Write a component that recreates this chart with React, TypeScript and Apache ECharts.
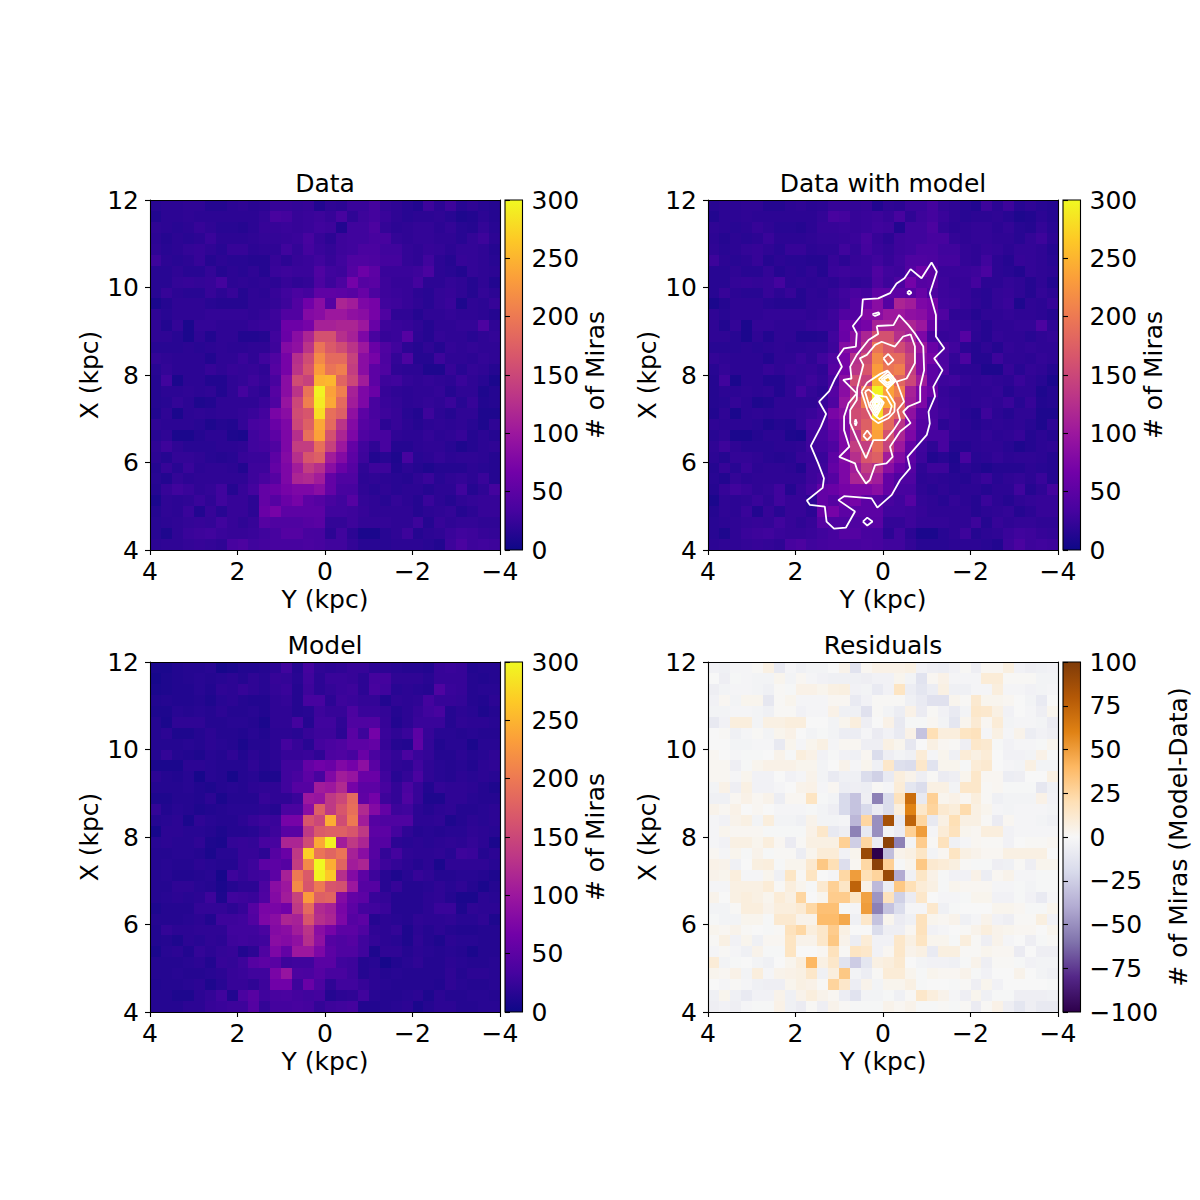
import React, { useEffect, useRef } from "react";
import * as echarts from "echarts";

// counts per bin, rows run from X=12 down to X=4, columns from Y=4 to Y=-4
const dataRows: number[][] = [
  [16,18,18,20,20,14,14,18, 20,17,18,24,24,22,24,12, 20,18,26,26,32,22,20,16, 12,28,18,28,16,20,16,14],
  [12,18,18,20,18,18,18,18, 18,18,22,35,32,24,26,28, 24,34,20,28,32,26,20,16, 18,18,20,16,10,12,18,14],
  [20,18,16,18,24,20,16,16, 14,18,24,24,26,24,26,30, 28,12,30,30,38,22,18,20, 22,22,18,22,16,14,22,16],
  [18,14,18,16,18,26,18,18, 18,20,22,22,24,26,34,24, 18,28,30,30,34,34,22,20, 22,22,20,20,16,22,28,18],
  [20,16,18,22,24,20,16,24, 24,18,20,20,30,22,32,26, 22,28,30,36,36,30,30,22, 20,24,22,18,22,22,20,14],
  [28,18,16,18,24,14,18,16, 16,14,14,24,18,24,26,30, 24,30,40,40,38,32,32,22, 20,30,18,14,24,22,20,16],
  [16,16,20,16,16,22,14,18, 16,20,14,26,28,26,26,40, 30,28,44,62,50,26,26,26, 28,36,18,16,12,22,20,18],
  [16,16,22,24,22,24,32,18, 20,18,20,18,24,20,22,38, 28,38,68,45,48,28,24,24, 32,18,18,22,20,14,20,12],
  [16,24,18,16,16,24,18,24, 14,20,18,24,30,36,32,52, 52,50,46,58,38,28,26,24, 18,16,22,24,20,14,22,18],
  [8,14,20,20,20,16,14,14, 14,20,20,22,28,42,65,85, 45,115,105,75,70,30,28,24, 20,16,22,26,10,20,18,24],
  [20,16,20,20,20,22,22,22, 22,20,22,28,42,42,80,85, 100,100,90,85,70,40,20,20, 14,20,20,22,20,20,18,14],
  [20,12,22,8,22,22,20,20, 20,24,26,26,62,62,70,110, 110,115,115,100,58,28,26,24, 20,14,20,20,22,22,38,20],
  [20,20,16,8,20,12,20,20, 12,12,14,30,60,85,115,160, 160,125,110,75,35,24,26,45, 18,14,22,20,20,16,20,22],
  [16,16,16,18,16,18,20,18, 18,20,20,28,80,90,130,195, 170,155,130,100,60,40,30,18, 14,20,14,22,20,22,20,20],
  [22,20,18,18,18,12,20,20, 26,20,30,40,70,125,155,215, 185,185,145,85,70,38,22,38, 14,14,28,20,20,18,22,20],
  [16,22,18,18,18,24,20,24, 22,24,20,45,70,130,165,230, 195,205,140,85,50,40,20,18, 18,10,10,24,16,22,20,14],
  [14,30,8,18,18,12,12,20, 22,28,22,35,85,155,145,248, 252,180,150,105,50,28,30,22, 20,22,20,18,26,20,16,8],
  [14,18,18,20,18,20,12,20, 32,22,18,45,85,130,195,295, 235,205,110,75,60,24,20,18, 20,20,22,14,20,20,10,14],
  [14,16,22,18,10,12,20,20, 20,20,26,40,95,150,205,290, 240,185,105,75,35,26,22,18, 20,22,20,26,16,24,12,14],
  [12,20,8,18,20,18,20,20, 22,26,32,72,85,155,165,280, 190,175,90,50,35,28,24,16, 12,28,18,14,20,20,10,10],
  [20,18,18,18,16,10,14,12, 22,34,36,60,75,150,175,240, 185,130,80,45,38,18,24,18, 14,18,20,18,20,16,10,20],
  [16,20,8,8,14,18,18,10, 8,30,35,50,75,125,190,235, 160,115,75,40,34,34,20,18, 18,22,18,20,24,14,18,14],
  [20,28,20,16,16,16,18,18, 20,30,32,40,75,140,140,190, 145,100,55,30,20,34,14,14, 18,20,20,16,10,14,18,20],
  [18,14,22,22,20,16,14,16, 24,26,26,50,80,125,165,175, 105,80,50,28,12,16,10,34, 16,18,22,18,20,20,18,14],
  [14,24,16,26,18,20,20,18, 12,28,28,55,75,105,140,125, 85,60,45,20,28,28,12,18, 14,10,14,14,14,18,16,14],
  [16,12,22,18,20,20,20,20, 20,28,35,45,75,115,120,105, 55,40,40,18,20,18,16,14, 20,26,16,20,22,18,26,14],
  [14,24,30,26,20,22,30,14, 24,32,55,60,70,75,75,85, 55,35,34,20,16,20,16,18, 18,14,18,18,30,14,20,32],
  [8,20,18,20,26,20,30,24, 24,18,55,45,60,70,50,45, 35,30,45,22,20,16,22,18, 14,26,18,14,20,22,24,24],
  [14,20,18,26,12,24,16,24, 24,18,60,70,50,50,50,50, 30,30,28,24,20,20,20,20, 14,18,20,22,14,18,24,24],
  [16,18,20,22,24,22,30,24, 20,24,45,40,40,40,45,48, 22,22,28,22,22,22,20,20, 28,14,24,20,22,22,20,20],
  [16,10,20,26,28,30,26,24, 24,26,30,34,44,44,35,34, 18,30,18,8,8,16,20,28, 14,18,20,26,30,28,24,22],
  [18,20,20,22,24,22,20,34, 38,30,32,34,34,34,36,34, 30,30,22,16,16,16,18,18, 18,16,12,28,36,28,30,28],
];

const modelRows: number[][] = [
  [8,8,12,14,14,16,6,8, 12,12,14,18,30,14,32,20, 18,20,24,24,18,18,16,14, 14,12,24,26,24,12,14,14],
  [6,10,12,14,16,14,16,18, 14,20,16,24,22,16,30,18, 26,26,24,18,32,32,20,20, 20,16,24,24,24,14,12,14],
  [8,10,12,12,16,12,20,18, 24,20,16,22,26,14,28,18, 22,26,28,18,34,30,16,18, 16,14,40,26,24,14,16,16],
  [12,14,12,12,14,10,16,18, 14,12,12,20,22,14,34,34, 18,28,26,22,22,12,20,18, 20,32,24,24,22,14,12,18],
  [10,10,16,14,16,14,18,14, 14,16,12,20,20,14,16,28, 24,24,38,26,26,22,14,18, 24,30,34,14,18,16,10,14],
  [14,8,20,20,20,14,14,16, 16,14,8,20,20,32,14,30, 30,20,40,40,42,24,12,18, 26,26,26,14,20,18,18,16],
  [14,18,10,10,14,18,14,14, 12,16,12,18,18,16,24,28, 28,18,48,28,68,26,20,26, 50,24,16,16,14,16,14,14],
  [14,14,14,16,14,18,16,14, 8,14,14,18,32,24,16,32, 36,40,50,50,55,24,14,12, 52,22,12,16,16,8,16,16],
  [14,22,14,12,10,16,14,20, 12,18,14,18,24,24,26,20, 38,40,34,60,36,28,22,36, 26,22,14,14,18,14,16,20],
  [8,8,8,18,18,16,14,14, 14,20,14,16,30,30,55,65, 60,78,68,88,48,26,20,18, 30,20,16,14,16,12,18,20],
  [18,14,12,16,6,16,14,6, 14,16,10,10,30,35,50,35, 78,105,95,60,60,30,16,22, 36,20,16,14,18,16,18,16],
  [14,14,14,16,12,10,14,16, 14,18,20,20,30,45,45,105, 100,120,70,50,50,34,22,36, 24,12,22,20,20,18,14,10],
  [10,10,14,14,12,18,8,14, 14,14,24,20,20,26,100,95, 135,150,185,52,68,28,22,40, 24,10,10,20,20,16,14,14],
  [22,12,16,14,10,12,14,16, 16,16,18,14,36,36,85,175, 135,165,190,120,80,55,28,30, 18,14,18,20,14,14,16,18],
  [14,16,18,8,20,16,14,14, 18,24,28,26,70,70,165,150, 245,155,200,105,45,40,40,40, 18,18,20,10,14,18,16,18],
  [6,18,18,16,16,14,10,14, 14,16,22,28,48,48,135,170, 175,175,165,135,50,50,32,20, 14,16,14,16,16,20,18,16],
  [16,18,16,16,20,10,8,22, 24,22,34,34,115,115,155,240, 295,105,135,115,45,45,18,16, 18,16,18,20,18,22,18,8],
  [14,14,16,16,14,8,16,16, 24,24,18,45,60,135,270,195, 180,195,110,85,45,22,32,20, 18,18,20,16,28,26,14,18],
  [14,16,14,14,18,16,14,14, 24,28,50,50,45,140,215,300, 245,180,105,115,40,28,22,18, 14,18,8,20,20,20,20,16],
  [14,16,12,12,14,16,6,28, 22,28,30,50,110,200,170,295, 265,125,80,50,28,16,10,16, 24,20,14,14,16,16,14,10],
  [14,14,20,20,16,14,8,14, 18,18,38,85,100,215,165,200, 165,160,100,45,45,16,24,14, 14,16,20,16,20,14,8,14],
  [14,16,18,16,18,28,10,30, 28,26,40,80,105,145,230,175, 180,80,55,50,25,22,14,14, 14,18,20,14,8,8,18,16],
  [10,14,14,14,22,22,22,18, 24,45,72,72,65,135,185,120, 110,72,50,32,30,26,14,14, 14,18,26,26,10,20,18,18],
  [14,14,14,16,18,12,28,28, 30,42,75,85,115,110,165,125, 115,75,45,50,14,18,16,14, 20,18,18,20,16,16,20,10],
  [12,22,18,18,20,20,20,30, 30,30,36,80,85,105,130,85, 70,50,50,40,20,18,22,10, 18,14,18,14,12,12,14,14],
  [12,14,10,18,16,20,18,28, 30,28,30,85,80,90,125,90, 45,40,45,30,22,18,16,10, 20,14,10,18,16,16,14,14],
  [8,16,18,12,22,18,22,24, 12,18,40,75,55,100,100,75, 50,40,40,30,10,20,20,14, 18,16,14,16,14,8,14,14],
  [14,14,14,16,18,12,24,22, 28,45,50,48,28,30,30,48, 48,30,28,14,16,6,12,16, 20,14,14,18,16,14,14,16],
  [14,14,16,14,14,16,18,24, 26,30,30,72,95,38,36,45, 35,35,28,14,18,14,16,14, 14,14,14,20,14,18,18,16],
  [12,14,14,16,18,10,16,24, 24,20,28,65,65,28,60,38, 20,30,30,24,18,16,14,14, 14,14,12,20,16,14,14,16],
  [14,14,10,10,18,22,30,12, 36,46,30,35,36,32,30,32, 14,18,20,30,16,14,14,16, 18,10,18,14,14,16,16,14],
  [14,14,14,18,18,24,26,28, 28,44,22,32,32,34,32,22, 28,30,32,12,12,14,16,18, 8,14,18,18,14,14,16,16],
];

const residualRows: number[][] = [
  [-4,-5,-2,-2,1,6,-10,-2, -5,-3,-3,0,4,-14,2,5, 5,5,6,-4,-6,-7,-4,1, -6,2,2,7,-4,-6,-5,-4],
  [0,-6,-1,-2,-3,-3,3,-3, 2,-2,-4,-5,-5,-5,-6,-4, -4,3,-3,-14,2,5,-2,-2, -2,10,10,1,1,1,-3,-3],
  [-6,-3,-2,-2,-3,-5,1,-1, 5,5,3,6,7,-4,-3,-9, -4,16,-7,-12,-7,6,-5,-5, -2,-2,8,-2,-2,-4,-3,-2],
  [-4,2,-3,3,3,-11,1,3, -2,-2,-2,2,2,-9,-4,1, 1,1,-5,-9,-15,-15,3,1, 12,3,3,2,0,-3,-9,0],
  [-3,-3,-2,-2,-3,-5,1,1, -4,-2,-2,5,-5,-5,-15,1, -3,-7,5,-8,1,-4,-9,-3, 14,13,6,-4,0,-2,-6,3],
  [-10,-4,8,8,-3,6,6,8, 8,0,0,-3,3,8,-6,0, 5,-10,-1,-1,2,-3,-12,3, 11,2,10,-3,-2,-2,-3,-8],
  [0,1,-5,-2,1,-3,3,5, 0,-3,-1,-3,-7,-7,-2,-8, -4,-9,5,-30,20,8,8,16, 18,-2,6,-2,4,-7,-4,-6],
  [0,0,-3,-3,-2,-2,-10,3, -2,3,6,-2,2,2,-6,-6, 6,3,-11,0,6,2,1,-6, 14,12,-1,-4,-2,-2,-1,3],
  [2,0,-2,-1,-1,0,4,-1, 8,5,-4,-1,-4,-5,2,-18, -6,-3,-5,10,-2,3,-5,10, 6,10,0,-4,-4,-3,5,-1],
  [2,2,-6,-1,3,5,5,5, 3,3,-3,0,4,-2,3,-5, 14,-16,-18,14,-14,3,3,-1, 10,12,0,-2,-3,6,-3,-3],
  [2,2,-2,3,-4,-4,0,-4, -2,4,-3,-9,-5,-5,-18,-24, -9,8,4,-6,1,-8,-6,3, 14,2,2,-7,-6,0,0,6],
  [-3,5,-6,6,-4,-4,-2,0, 4,5,-2,2,-7,-6,-7,1, -2,10,-12,-18,6,6,-3,14, 14,1,2,-1,-1,-1,-11,-5],
  [-5,-5,2,5,2,4,-7,2, 2,16,-1,-3,-20,-30,-6,-55, -18,18,70,-10,28,3,5,2, 8,1,-5,-3,-3,-3,5,-4],
  [4,2,5,0,2,0,-2,-2, -2,-1,-3,-6,-20,-30,-20,-8, -18,8,60,14,26,12,9,22, 6,3,-2,-3,-2,-2,-2,-3],
  [-2,-4,4,6,-3,8,-3,-3, -5,4,-3,-3,-2,-35,25,-50, 85,-10,75,25,-10,6,20,6, 6,1,-8,2,-2,-2,-3,-5],
  [-2,3,2,2,2,-1,-1,-1, -1,5,14,-10,-6,-55,-10,-50, -3,-8,28,50,-2,10,18,3, 2,8,8,-4,-2,-2,-2,-2],
  [-2,-4,6,6,3,8,2,-8, 1,6,6,6,28,-25,25,-8, 95,-55,-3,30,1,18,-5,-2, 2,1,1,-4,0,1,1,2],
  [2,-2,3,-1,4,-1,1,1, -7,3,10,10,-4,3,90,-100, -32,4,6,15,-3,2,16,6, 4,2,2,6,6,6,6,0],
  [5,4,-5,0,7,8,-1,3, 3,12,32,20,-17,2,24,95, 28,-1,3,32,12,10,7,1, -1,-1,-6,-5,1,-6,3,3],
  [4,3,8,-2,-2,3,-5,15, 1,16,0,-2,24,50,20,26, 90,-40,-5,15,5,-1,-4,-4, 5,-7,2,4,-2,-2,-1,-1],
  [-2,-2,6,6,6,10,1,8, 3,-1,12,28,15,75,5,-34, -7,32,20,10,6,-1,3,2, 2,2,-2,-2,-1,-3,-1,-1],
  [4,0,6,8,6,3,10,6, 25,0,3,30,30,15,48,-48, 18,-24,-8,14,0,-2,-2,-1, 3,3,-4,-4,-1,-4,-9,-2],
  [-3,-3,1,8,8,4,8,8, 11,24,36,36,-1,-2,50,-55, -30,-18,-2,-2,13,-5,-1,0, 0,0,3,3,2,-1,-1,3],
  [-1,-3,-3,3,3,-1,12,12, 4,4,38,38,46,-5,14,-30, 3,-8,-5,18,3,2,4,-5, -2,4,-4,-6,1,1,7,-4],
  [3,2,4,1,0,-1,1,18, 24,8,14,30,6,0,0,-18, -6,-6,2,18,-4,-2,0,1, 4,8,4,3,2,2,0,3],
  [1,6,-4,3,-5,2,2,16, 4,4,14,32,4,-7,10,-4, -4,14,6,16,3,3,-1,8, 1,-6,4,-2,0,-6,-1,1],
  [-2,1,-2,-5,4,-1,-1,16, 0,0,2,18,1,16,14,-4, 2,14,4,6,-9,7,7,1, 1,3,2,2,-8,0,-6,-6],
  [10,-3,-1,0,-3,-5,0,3, 8,40,6,14,-14,-26,-12,6, 8,12,0,-3,-4,-4,-5,-1, 4,-6,1,1,-1,-4,-3,-3],
  [3,2,5,-3,8,-2,4,5, 6,14,-5,8,32,-3,-7,1, 10,10,3,-1,3,2,2,4, -1,-4,0,0,4,0,-3,-5],
  [0,-2,1,-2,-5,-6,-6,3, 6,5,1,26,14,-7,4,-3, 3,3,6,-1,0,0,-1,1, -6,3,-4,0,0,0,0,-1],
  [-5,3,-5,-9,-4,-4,4,-5, 4,8,4,2,-7,-14,-3,-3, -1,-5,1,14,8,4,-2,-6, 3,-5,-1,-1,-6,-6,-6,-5],
  [-6,-4,-6,-2,-1,-1,5,-5, -8,1,-6,4,1,-1,-1,-1, 4,2,4,-1,-1,1,-1,1, -8,1,5,-6,-12,-6,-10,-10],
];

// model contours over the data panel, [Y, X] in kpc
const contours: number[][][] = [
  [[-1.11,10.57],[-1.23,10.36],[-1.07,9.87],[-1.21,9.37],[-1.21,8.88],[-1.4,8.61],[-1.17,8.38],[-1.36,8.11],[-1.15,7.73],[-1.19,7.51],[-1.04,7.16],[-1.07,6.89],[-1,6.63],[-0.56,6.13],[-0.62,5.87],[-0.39,5.6],[-0.2,5.26],[0.13,4.97],[0.26,5.18],[0.89,5.23],[1.02,5.14],[0.64,4.88],[0.85,4.51],[1.12,4.49],[1.29,4.65],[1.33,4.99],[1.67,5.03],[1.74,5.13],[1.38,5.42],[1.35,5.64],[1.48,5.98],[1.65,6.38],[1.42,6.82],[1.3,7.11],[1.46,7.39],[1.23,7.63],[1.11,7.89],[0.94,8.19],[1.04,8.4],[0.89,8.61],[0.62,8.65],[0.6,8.95],[0.69,9.12],[0.49,9.37],[0.46,9.73],[0.11,9.75],[-0.16,9.87],[-0.31,10.09],[-0.49,10.21],[-0.63,10.42],[-0.88,10.21]],
  [[-0.55,9.88],[-0.6,9.93],[-0.65,9.88],[-0.6,9.84]],
  [[0.24,9.39],[0.1,9.43],[0.08,9.39],[0.18,9.35]],
  [[0.46,4.65],[0.36,4.74],[0.24,4.65],[0.36,4.56]],
  [[0.145,9.12],[-0.24,9.14],[-0.37,9.37],[-0.58,9.14],[-0.73,8.95],[-0.92,8.65],[-0.94,8.11],[-0.85,7.73],[-0.85,7.39],[-0.58,7.28],[-0.46,7.16],[-0.63,6.9],[-0.39,6.71],[-0.16,6.36],[-0.22,6.13],[-0.08,5.98],[0.18,5.94],[0.3,5.6],[0.39,5.52],[0.59,5.83],[0.64,5.98],[1,6.13],[0.77,6.36],[0.89,6.74],[0.89,7.05],[0.79,7.35],[0.6,7.58],[0.91,7.89],[0.72,7.92],[0.75,8.19],[0.6,8.46],[0.33,8.8],[0.11,8.94]],
  [[-0.63,8.93],[-0.73,8.65],[-0.73,8.27],[-0.54,7.92],[-0.31,7.85],[-0.48,7.39],[-0.33,7.2],[-0.39,6.97],[-0.24,6.74],[-0.05,6.51],[0.22,6.51],[0.39,6.1],[0.6,6.55],[0.75,6.9],[0.75,7.2],[0.6,7.43],[0.59,7.7],[0.45,8.23],[0.53,8.38],[0.37,8.46],[0.18,8.69],[0.03,8.76],[-0.27,8.65],[-0.46,8.88]],
  [[-0.01,8.38],[-0.12,8.48],[-0.24,8.34],[-0.12,8.23]],
  [[0.45,6.61],[0.36,6.73],[0.27,6.61],[0.36,6.51]],
  [[0.65,6.91],[0.625,6.99],[0.6,6.91],[0.625,6.84]],
  [[0.49,7.62],[0.36,7.83],[0.07,8.02],[-0.1,8.1],[-0.29,7.87],[-0.08,7.66],[-0.27,7.35],[-0.26,7.16],[-0.12,7.01],[0.11,6.9],[0.26,7.01],[0.36,7.21]],
  [[0.41,7.62],[0.33,7.67],[0.18,7.54],[-0.08,7.5],[-0.2,7.29],[-0.15,7.12],[0.08,6.99],[0.2,7.09],[0.31,7.28]],
  [[0.3,7.35],[0.14,7.54],[-0.02,7.37],[0.14,7.07]],
  [[0.25,7.35],[0.14,7.49],[0.02,7.37],[0.14,7.14]],
  [[0.21,7.35],[0.14,7.44],[0.07,7.37],[0.14,7.21]],
  [[0.18,7.35],[0.14,7.4],[0.1,7.35],[0.14,7.27]],
  [[0.1,7.9],[-0.12,8.08],[-0.29,7.87],[-0.1,7.72]],
  [[0.04,7.9],[-0.12,8.01],[-0.24,7.87],[-0.1,7.77]],
  [[-0.01,7.89],[-0.12,7.96],[-0.19,7.87],[-0.1,7.82]],
];

const titles = ["Data", "Data with model", "Model", "Residuals"];
const barNames = ["# of Miras", "# of Miras", "# of Miras", "# of Miras (Model-Data)"];
const plasma = ["#0d0887", "#46039f", "#7201a8", "#9c179e", "#bd3786", "#d8576b", "#ed7953", "#fb9f3a", "#fdca26", "#f0f921"];
const puOrR = ["#2d004b", "#542788", "#8073ac", "#b2abd2", "#d8daeb", "#f7f7f7", "#fee0b6", "#fdb863", "#e08214", "#b35806", "#7f3b08"];

const panelLeft = [150, 708, 150, 708];
const panelTop = [200, 200, 662, 662];
const FONT = "DejaVu Sans";
const FS = 25;
const BIN = 0.25; // kpc

const minusLabel = (v: number) => String(v).replace("-", "\u2212");

const App: React.FC = () => {
  const chartRef = useRef<HTMLDivElement>(null);

  useEffect(() => {
    if (!chartRef.current) return;
    const chart = echarts.init(chartRef.current, undefined, { renderer: "svg" });

    const maps = [dataRows, dataRows, modelRows, residualRows];
    const ranges = [[0, 300, 50], [0, 300, 50], [0, 300, 50], [-100, 100, 25]];
    const line = { show: true, onZero: false, lineStyle: { color: "#000", width: 1.1 } };
    const tick = { show: true, length: 5, lineStyle: { color: "#000", width: 1.1 } };
    const label = { color: "#000", fontFamily: FONT, fontSize: FS, formatter: minusLabel };
    const nameStyle = { color: "#000", fontFamily: FONT, fontSize: FS };

    const grid: any[] = [];
    const xAxis: any[] = [];
    const yAxis: any[] = [];
    const series: any[] = [];
    const visualMap: any[] = [];

    maps.forEach((rows, p) => {
      const [lo, hi, step] = ranges[p];
      const colors = p === 3 ? puOrR : plasma;
      grid.push({ left: panelLeft[p], top: panelTop[p], width: 350, height: 350 });
      grid.push({ left: panelLeft[p] + 355, top: panelTop[p], width: 17.5, height: 350 });

      xAxis.push(
        { type: "value", gridIndex: p * 2, min: -4, max: 4, interval: 2, inverse: true, position: "bottom", z: 5, axisLine: line, axisTick: tick, splitLine: { show: false }, axisLabel: { ...label, margin: 9 }, name: "Y (kpc)", nameLocation: "middle", nameGap: 37, nameTextStyle: nameStyle },
        { type: "value", gridIndex: p * 2, min: -4, max: 4, inverse: true, position: "top", z: 5, axisLine: line, axisTick: { show: false }, axisLabel: { show: false }, splitLine: { show: false } },
        { type: "value", gridIndex: p * 2 + 1, min: 0, max: 1, show: false }
      );
      yAxis.push(
        { type: "value", gridIndex: p * 2, min: 4, max: 12, interval: 2, position: "left", z: 5, axisLine: line, axisTick: tick, splitLine: { show: false }, axisLabel: { ...label, margin: 11 }, name: "X (kpc)", nameLocation: "middle", nameRotate: 90, nameGap: 48, nameTextStyle: nameStyle },
        { type: "value", gridIndex: p * 2, min: 4, max: 12, position: "right", z: 5, axisLine: line, axisTick: { show: false }, axisLabel: { show: false }, splitLine: { show: false } },
        { type: "value", gridIndex: p * 2 + 1, min: lo, max: hi, interval: step, position: "right", z: 5, axisLine: { show: false }, axisTick: tick, splitLine: { show: false }, axisLabel: { ...label, margin: 9 }, name: barNames[p], nameLocation: "middle", nameRotate: 90, nameGap: p === 3 ? 85 : 59, nameTextStyle: nameStyle }
      );

      const cells: number[][] = [];
      rows.forEach((row, j) => row.forEach((v, i) => cells.push([4 - (i + 0.5) * BIN, 12 - (j + 0.5) * BIN, v])));
      series.push({
        type: "custom",
        xAxisIndex: p * 3,
        yAxisIndex: p * 3,
        data: cells,
        encode: { x: 0, y: 1 },
        silent: true,
        progressive: 0,
        z: 2,
        renderItem: (_: any, api: any) => {
          const c = api.coord([api.value(0), api.value(1)]);
          const s = api.size([BIN, BIN]);
          // snap to whole pixels so no seams show between the bins
          const x0 = Math.round(c[0] - s[0] / 2);
          const x1 = Math.round(c[0] + s[0] / 2);
          const y0 = Math.round(c[1] - s[1] / 2);
          const y1 = Math.round(c[1] + s[1] / 2);
          return {
            type: "rect",
            shape: { x: x0, y: y0, width: x1 - x0, height: y1 - y0 },
            style: { fill: api.visual("color") },
          };
        },
      });
      visualMap.push({ show: false, seriesIndex: p, dimension: 2, min: lo, max: hi, inRange: { color: colors } });
    });

    maps.forEach((_, p) => {
      const [lo, hi] = ranges[p];
      const colors = p === 3 ? puOrR : plasma;
      series.push({
        type: "custom",
        xAxisIndex: p * 3 + 2,
        yAxisIndex: p * 3 + 2,
        silent: true,
        data: [[0, lo, hi]],
        encode: { x: 0, y: [1, 2] },
        renderItem: (params: any, api: any) => {
          const bottom = api.coord([0, api.value(1)]);
          const top = api.coord([0, api.value(2)]);
          return {
            type: "rect",
            shape: { x: params.coordSys.x, y: top[1], width: params.coordSys.width, height: bottom[1] - top[1] },
            style: {
              fill: new echarts.graphic.LinearGradient(0, 1, 0, 0, colors.map((color, k) => ({ offset: k / (colors.length - 1), color }))),
              stroke: "#000",
              lineWidth: 1.1,
            },
          };
        },
      });
    });

    contours.forEach((c) => {
      series.push({
        type: "line",
        xAxisIndex: 3,
        yAxisIndex: 3,
        data: [...c, c[0]],
        symbol: "none",
        silent: true,
        z: 4,
        lineStyle: { color: "#fff", width: 1.8 },
      });
    });

    chart.setOption({
      animation: false,
      title: titles.map((text, p) => ({
        text,
        left: panelLeft[p] + 170,
        top: panelTop[p] - 34,
        textAlign: "center",
        textStyle: { color: "#000", fontFamily: FONT, fontSize: FS, fontWeight: "normal" },
      })),
      grid,
      xAxis,
      yAxis,
      visualMap,
      series,
    });

    return () => chart.dispose();
  }, []);

  return <div ref={chartRef} style={{ position: "absolute", left: 0, top: 0, width: 1200, height: 1200, background: "#fff" }} />;
};

export default App;
